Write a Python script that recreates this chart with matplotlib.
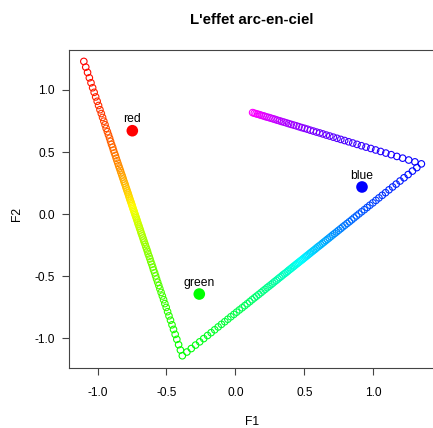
import numpy as np
import matplotlib.pyplot as plt
from matplotlib.colors import hsv_to_rgb

# Coordonnees : trois branches (rouge->vert, vert->bleu, bleu->magenta)
f1_rouge_vert = [
    -1.100, -1.086, -1.073, -1.060, -1.048, -1.036, -1.025, -1.014, -1.003, -0.993,
    -0.983, -0.973, -0.964, -0.955, -0.946, -0.938, -0.929, -0.921, -0.913, -0.906,
    -0.899, -0.891, -0.885, -0.878, -0.871, -0.865, -0.859, -0.853, -0.847, -0.841,
    -0.835, -0.830, -0.824, -0.819, -0.814, -0.809, -0.804, -0.799, -0.795, -0.790,
    -0.786, -0.781, -0.777, -0.773, -0.769, -0.765, -0.761, -0.757, -0.753, -0.750,
    -0.746, -0.743, -0.739, -0.735, -0.732, -0.728, -0.724, -0.720, -0.716, -0.712,
    -0.708, -0.704, -0.699, -0.695, -0.690, -0.686, -0.681, -0.676, -0.671, -0.666,
    -0.661, -0.655, -0.650, -0.644, -0.638, -0.633, -0.626, -0.620, -0.614, -0.607,
    -0.600, -0.594, -0.586, -0.579, -0.572, -0.564, -0.556, -0.548, -0.539, -0.530,
    -0.521, -0.512, -0.502, -0.492, -0.482, -0.471, -0.460, -0.449, -0.437, -0.425,
    -0.412, -0.399, -0.385]
f2_rouge_vert = [
    1.230, 1.184, 1.141, 1.098, 1.058, 1.018, 0.981, 0.944, 0.909, 0.875,
    0.841, 0.810, 0.779, 0.749, 0.720, 0.691, 0.664, 0.638, 0.612, 0.587,
    0.562, 0.539, 0.516, 0.493, 0.472, 0.450, 0.430, 0.410, 0.390, 0.371,
    0.352, 0.334, 0.316, 0.299, 0.282, 0.265, 0.249, 0.234, 0.218, 0.203,
    0.188, 0.174, 0.160, 0.146, 0.132, 0.119, 0.106, 0.093, 0.081, 0.069,
    0.057, 0.045, 0.033, 0.021, 0.009, -0.003, -0.016, -0.029, -0.042, -0.056,
    -0.070, -0.084, -0.098, -0.113, -0.128, -0.144, -0.159, -0.175, -0.192, -0.209,
    -0.226, -0.244, -0.262, -0.281, -0.300, -0.320, -0.340, -0.360, -0.382, -0.403,
    -0.426, -0.449, -0.472, -0.497, -0.522, -0.548, -0.574, -0.601, -0.630, -0.659,
    -0.689, -0.720, -0.751, -0.785, -0.819, -0.854, -0.891, -0.928, -0.968, -1.008,
    -1.051, -1.094, -1.140]

f1_vert_bleu = [
    -0.352, -0.320, -0.289, -0.259, -0.230, -0.202, -0.176, -0.150, -0.125, -0.101,
    -0.077, -0.055, -0.033, -0.011, 0.009, 0.029, 0.049, 0.068, 0.086, 0.104,
    0.121, 0.138, 0.154, 0.170, 0.186, 0.201, 0.216, 0.230, 0.244, 0.258,
    0.271, 0.284, 0.297, 0.309, 0.321, 0.333, 0.344, 0.356, 0.367, 0.378,
    0.388, 0.399, 0.409, 0.419, 0.428, 0.438, 0.447, 0.456, 0.465, 0.474,
    0.483, 0.491, 0.500, 0.509, 0.518, 0.527, 0.537, 0.546, 0.556, 0.566,
    0.577, 0.587, 0.598, 0.609, 0.621, 0.632, 0.644, 0.656, 0.668, 0.681,
    0.694, 0.707, 0.721, 0.735, 0.749, 0.764, 0.779, 0.795, 0.811, 0.827,
    0.844, 0.861, 0.879, 0.897, 0.916, 0.936, 0.956, 0.976, 0.998, 1.020,
    1.042, 1.066, 1.090, 1.115, 1.141, 1.167, 1.195, 1.224, 1.254, 1.285,
    1.317, 1.350]
f2_vert_bleu = [
    -1.110, -1.082, -1.054, -1.028, -1.002, -0.977, -0.954, -0.931, -0.908, -0.887,
    -0.866, -0.846, -0.826, -0.807, -0.789, -0.771, -0.754, -0.737, -0.721, -0.705,
    -0.689, -0.674, -0.660, -0.646, -0.632, -0.618, -0.605, -0.592, -0.580, -0.568,
    -0.556, -0.544, -0.533, -0.522, -0.511, -0.501, -0.490, -0.480, -0.471, -0.461,
    -0.451, -0.442, -0.433, -0.424, -0.416, -0.407, -0.399, -0.391, -0.383, -0.375,
    -0.368, -0.360, -0.352, -0.344, -0.336, -0.328, -0.319, -0.311, -0.302, -0.293,
    -0.284, -0.274, -0.264, -0.255, -0.245, -0.234, -0.224, -0.213, -0.202, -0.191,
    -0.179, -0.167, -0.155, -0.143, -0.130, -0.117, -0.103, -0.089, -0.075, -0.061,
    -0.046, -0.030, -0.014, 0.002, 0.019, 0.036, 0.054, 0.072, 0.091, 0.111,
    0.131, 0.152, 0.173, 0.196, 0.219, 0.242, 0.267, 0.293, 0.319, 0.347,
    0.375, 0.405]

f1_bleu_magenta = [
    1.303, 1.258, 1.214, 1.172, 1.131, 1.092, 1.054, 1.018, 0.983, 0.948,
    0.915, 0.883, 0.852, 0.822, 0.793, 0.765, 0.738, 0.711, 0.685, 0.660,
    0.635, 0.612, 0.589, 0.566, 0.544, 0.523, 0.502, 0.482, 0.462, 0.443,
    0.424, 0.405, 0.387, 0.370, 0.353, 0.336, 0.320, 0.304, 0.288, 0.273,
    0.258, 0.244, 0.229, 0.215, 0.202, 0.188, 0.175, 0.162, 0.150, 0.137,
    0.125]
f2_bleu_magenta = [
    0.421, 0.436, 0.451, 0.465, 0.479, 0.492, 0.505, 0.517, 0.529, 0.540,
    0.551, 0.562, 0.573, 0.583, 0.593, 0.602, 0.611, 0.620, 0.629, 0.637,
    0.646, 0.654, 0.661, 0.669, 0.676, 0.684, 0.691, 0.697, 0.704, 0.711,
    0.717, 0.723, 0.729, 0.735, 0.741, 0.746, 0.752, 0.757, 0.763, 0.768,
    0.773, 0.778, 0.782, 0.787, 0.792, 0.796, 0.801, 0.805, 0.809, 0.813,
    0.818]

# Points des couleurs primaires
noms_primaires = ["red", "green", "blue"]
f1_primaires = [-0.748, -0.262, 0.919]
f2_primaires = [0.672, -0.643, 0.219]

f1 = f1_rouge_vert + f1_vert_bleu + f1_bleu_magenta
f2 = f2_rouge_vert + f2_vert_bleu + f2_bleu_magenta

plt.rcParams['font.family'] = ['Liberation Sans', 'DejaVu Sans']
plt.rcParams['axes.unicode_minus'] = False

fig = plt.figure(figsize=(4.33, 4.28), dpi=100)
ax = fig.add_axes([0.1605, 0.1395, 0.844, 0.7437])

# couleurs arc-en-ciel (rouge -> magenta) dans l'ordre des points
teintes = np.linspace(0, 5 / 6, len(f1))
hsv = np.column_stack([teintes, np.ones_like(teintes), np.ones_like(teintes)])
couleurs = hsv_to_rgb(hsv)

ax.scatter(f1, f2, s=22, facecolors='none', edgecolors=couleurs, linewidths=0.8)

ax.scatter(f1_primaires, f2_primaires, s=70, c=['#FF0000', '#00FF00', '#0000FF'],
           edgecolors='none', zorder=3)
for nom, x, y in zip(noms_primaires, f1_primaires, f2_primaires):
    ax.annotate(nom, (x, y), xytext=(0, 8.2), textcoords='offset points',
                ha='center', va='center', fontsize=8.7)

ax.set_xlim(-1.204, 1.4485)
ax.set_ylim(-1.241, 1.322)
ticks = [-1.0, -0.5, 0.0, 0.5, 1.0]
ax.set_xticks(ticks)
ax.set_yticks(ticks)
ax.set_xticklabels([f"{t:.1f}" for t in ticks])
ax.set_yticklabels([f"{t:.1f}" for t in ticks])

for sp in ax.spines.values():
    sp.set_color('#444444')
    sp.set_linewidth(0.8)
ax.tick_params(direction='out', length=5, width=0.8, color='#444444', labelsize=8.6)
ax.tick_params(axis='x', pad=8.5)
ax.tick_params(axis='y', pad=5.5)

fig.text(252 / 433, 1 - 20 / 428, "L'effet arc-en-ciel", ha='center', va='center',
         fontsize=10.8, fontweight='bold')
fig.text(252 / 433, 1 - 422 / 428, 'F1', ha='center', va='center', fontsize=8.7)
fig.text(17 / 433, 1 - 214 / 428, 'F2', ha='center', va='center', fontsize=8.7,
         rotation=90)

fig.savefig('out.png', dpi=100)
